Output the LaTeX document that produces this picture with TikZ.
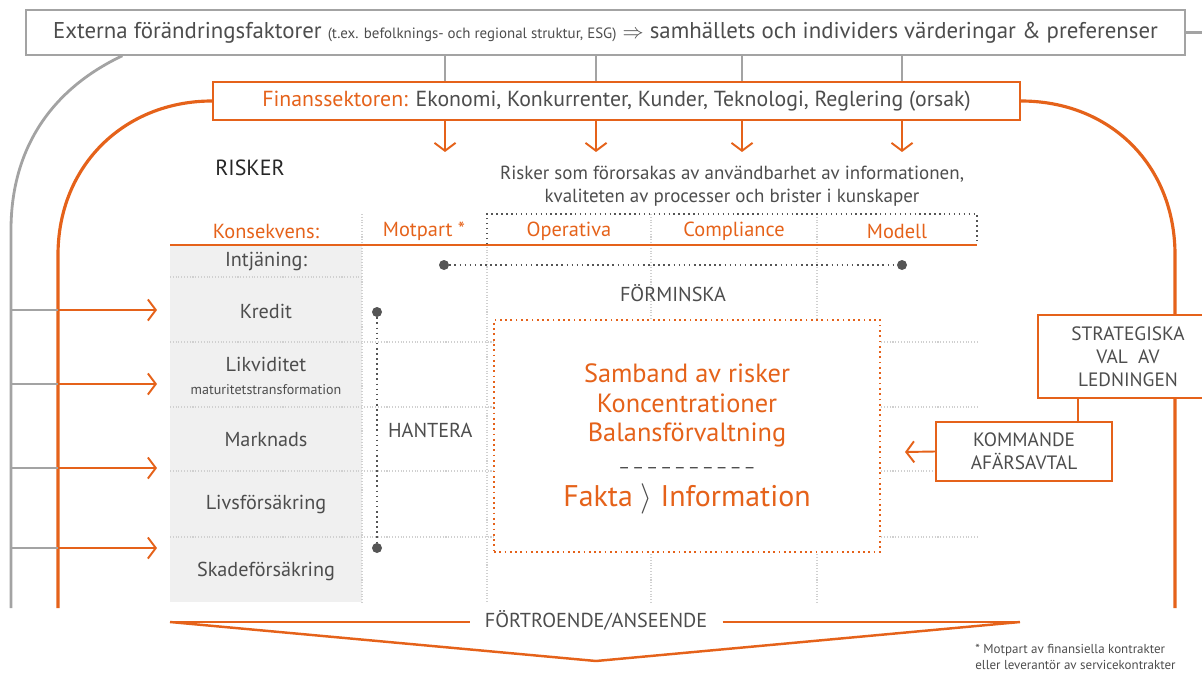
\documentclass[tikz,border=0pt]{standalone}
\usepackage{fontspec}
\setmainfont{PT Sans}
\usepackage{tikz}
\usetikzlibrary{arrows.meta,positioning,calc}
\definecolor{finOrange}{HTML}{E5621A}
\definecolor{finGrey}{HTML}{A3A3A3}
\definecolor{finText}{HTML}{4D4D4D}
\definecolor{finFill}{HTML}{F0F0F0}
\definecolor{finGrid}{HTML}{D0D0D0}
\definecolor{finDot}{HTML}{555555}
\newcommand{\sepdashes}{\textendash\hspace{1pt}\textendash\hspace{1pt}\textendash\hspace{1pt}\textendash\hspace{1pt}\textendash\hspace{1pt}\textendash\hspace{1pt}\textendash\hspace{1pt}\textendash\hspace{1pt}\textendash\hspace{1pt}\textendash}

\begin{document}
\begin{tikzpicture}[
    x=0.02cm, y=-0.02cm,
    font=\fontsize{11.5}{13.5}\selectfont,
    every node/.style={text=finText},
    greyline/.style={draw=finGrey, line width=1.6pt},
    thinline/.style={draw=finGrey, line width=0.9pt},
    orangeline/.style={draw=finOrange, line width=1.8pt},
    arrow/.style={-{Straight Barb[length=4.5pt,width=12pt]}, draw=finOrange, line width=1.1pt},
    gridline/.style={draw=finGrid, densely dotted, line width=0.6pt},
    topbox/.style={draw=finGrey, line width=0.9pt, fill=white, minimum width=23.18cm, minimum height=0.9cm, inner sep=0pt, font=\fontsize{13}{15}\selectfont},
    finbox/.style={draw=finOrange, line width=1.2pt, fill=white, minimum width=16.14cm, minimum height=0.76cm, inner sep=0pt, font=\fontsize{12.4}{14}\selectfont},
    head/.style={text=finOrange, font=\fontsize{11.6}{14}\selectfont},
    rowlabel/.style={align=center, font=\fontsize{11.5}{13}\selectfont},
    dotmark/.style={circle, fill=finDot, minimum size=0.2cm, inner sep=0pt},
    linkline/.style={draw=finDot, dotted, line width=0.9pt},
    corebox/.style={draw=finOrange, dotted, line width=1pt, fill=white, minimum width=7.72cm, minimum height=4.64cm, align=center, text=finOrange, font=\fontsize{15}{17}\selectfont},
    mgmtbox/.style={draw=finOrange, line width=1.2pt, fill=white, align=center, inner sep=0pt, font=\fontsize{11}{13}\selectfont}
]
    \useasboundingbox (0,0) rectangle (1202,672);

    \fill[finFill] (170,244) rectangle (362,602);
    \draw[gridline] (170,277) -- (362,277);
    \draw[gridline] (170,342) -- (977,342);
    \draw[gridline] (170,407) -- (977,407);
    \draw[gridline] (170,471) -- (977,471);
    \draw[gridline] (170,537) -- (977,537);
    \draw[gridline] (362,214) -- (362,602);
    \draw[gridline] (487,244) -- (487,602);
    \draw[gridline] (651,214) -- (651,602);
    \draw[gridline] (817,214) -- (817,602);
    \draw[finDot, dotted, line width=0.8pt] (487,244) -- (487,214) -- (977,214) -- (977,244);
    \draw[orangeline, line width=1.2pt] (170,245) -- (977,245);

    \node[topbox] (ext) at (605.5,32.5) {Externa förändringsfaktorer {\fontsize{8.5}{10}\selectfont (t.ex. befolknings- och regional struktur, ESG)} {\large$\Rightarrow$} samhällets och individers värderingar \& preferenser};
    \node[finbox] (fin) at (616.5,101) {\textcolor{finOrange}{Finanssektoren:} Ekonomi, Konkurrenter, Kunder, Teknologi, Reglering (orsak)};

    \draw[greyline] ([xshift=1.94cm]ext.south west) .. controls (50,90) and (11,150) .. (11,230) -- (11,608);
    \draw[greyline] (ext.east) -- (1202,32.5);
    \draw[orangeline] (fin.west) .. controls (125,101) and (58,165) .. (58,255) -- (58,608);
    \draw[orangeline] (fin.east) .. controls (1110,101) and (1175,165) .. (1175,255) -- (1175,608);

    \coordinate (tip1) at (445,152);
    \coordinate (tip2) at (596,152);
    \coordinate (tip3) at (742,152);
    \coordinate (tip4) at (902,152);
    \draw[thinline] (ext.south -| tip1) -- (fin.north -| tip1);
    \draw[thinline] (ext.south -| tip2) -- (fin.north -| tip2);
    \draw[thinline] (ext.south -| tip3) -- (fin.north -| tip3);
    \draw[thinline] (ext.south -| tip4) -- (fin.north -| tip4);
    \draw[arrow] (fin.south -| tip1) -- (tip1);
    \draw[arrow] (fin.south -| tip2) -- (tip2);
    \draw[arrow] (fin.south -| tip3) -- (tip3);
    \draw[arrow] (fin.south -| tip4) -- (tip4);

    \coordinate (greyL) at (11,0);
    \coordinate (orangeL) at (58,0);
    \coordinate (in1) at (157,310);
    \coordinate (in2) at (157,384);
    \coordinate (in3) at (157,468);
    \coordinate (in4) at (157,548);
    \draw[thinline] (greyL |- in1) -- (orangeL |- in1);
    \draw[thinline] (greyL |- in2) -- (orangeL |- in2);
    \draw[thinline] (greyL |- in3) -- (orangeL |- in3);
    \draw[thinline] (greyL |- in4) -- (orangeL |- in4);
    \draw[arrow] (orangeL |- in1) -- (in1);
    \draw[arrow] (orangeL |- in2) -- (in2);
    \draw[arrow] (orangeL |- in3) -- (in3);
    \draw[arrow] (orangeL |- in4) -- (in4);

    \node[font=\fontsize{12.5}{14}\selectfont, text=black!85] (risker) at (250,168) {RISKER};
    \node[align=center, font=\fontsize{10.8}{13}\selectfont] (cause) at (732,186.5) {Risker som förorsakas av användbarhet av informationen,\\kvaliteten av processer och brister i kunskaper};

    \node[head] (kons) at (266,231) {Konsekvens:};
    \node[head] (motpart) at (424,231) {Motpart *};
    \node[head] (oper) at (569,231) {Operativa};
    \node[head] (compl) at (734,231) {Compliance};
    \node[head] (modell) at (897,231) {Modell};

    \node[rowlabel] (intj) at (266,261) {Intjäning:};
    \node[rowlabel] (kredit) at (266,311) {Kredit};
    \node[rowlabel] (likv) at (266,376) {Likviditet\\{\fontsize{8}{9}\selectfont maturitetstransformation}};
    \node[rowlabel] (markn) at (266,440) {Marknads};
    \node[rowlabel] (livs) at (266,504) {Livsförsäkring};
    \node[rowlabel] (skade) at (266,571) {Skadeförsäkring};

    \node[dotmark] (redA) at (444,265) {};
    \node[dotmark] (redB) at (902,265) {};
    \draw[linkline] (redA) -- node[below=0.26cm] (forminska) {FÖRMINSKA} (redB);
    \node[dotmark] (hanA) at (377,312) {};
    \node[dotmark] (hanB) at (377,548) {};
    \draw[linkline] (hanA) -- node[right=0.09cm] (hantera) {HANTERA} (hanB);

    \node[corebox] (core) at (687,436) {};
    \node[align=center, text=finOrange, font=\fontsize{15}{17}\selectfont] (coretext) at ([yshift=-0.06cm]core.center) {Samband av risker\\Koncentrationer\\Balansförvaltning\\[1pt]{\color{finText}\fontsize{10.5}{13}\selectfont\sepdashes}\\[2pt]{\fontsize{17}{20}\selectfont Fakta {\color{finText}$\rangle$} Information}};

    \node[mgmtbox, minimum width=3.6cm, minimum height=1.66cm] (strat) at (1128,356.5) {STRATEGISKA\\VAL\ \ AV\\LEDNINGEN};
    \node[mgmtbox, minimum width=3.52cm, minimum height=1.18cm] (komm) at (1024,451.5) {KOMMANDE\\AFÄRSAVTAL};
    \draw[orangeline, line width=1.2pt] ([xshift=1.08cm]komm.north) -- ([xshift=1.08cm]komm.north |- strat.south);
    \coordinate (kommtip) at (905,452);
    \draw[arrow] (komm.west) -- (kommtip);

    \node[font=\fontsize{11.5}{13}\selectfont, inner xsep=0.3cm] (trust) at (596,620) {FÖRTROENDE/ANSEENDE};
    \coordinate (trustL) at (170,622);
    \coordinate (trustR) at (1020,622);
    \coordinate (trustV) at (596,661);
    \draw[orangeline, line width=1.4pt] (trustL) -- (trust.west |- trustL);
    \draw[orangeline, line width=1.4pt] (trust.east |- trustR) -- (trustR);
    \draw[orangeline, line width=1.4pt] (trustL) -- (trustV) -- (trustR);

    \node[anchor=north west, align=left, font=\fontsize{7.4}{9}\selectfont, inner sep=0pt] (note) at (975,644) {* Motpart av finansiella kontrakter\\eller leverantör av servicekontrakter};
\end{tikzpicture}
\end{document}
